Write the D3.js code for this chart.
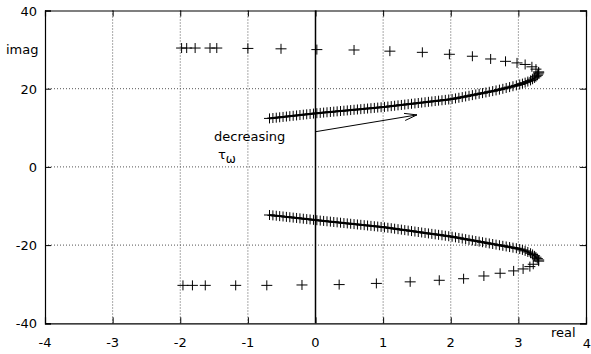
<!DOCTYPE html>
<html>
<head>
<meta charset="utf-8">
<script src="https://cdn.jsdelivr.net/npm/d3@7"></script>
<style>
  html, body { margin: 0; padding: 0; background: #fff; }
  svg { display: block; font-family: "DejaVu Sans", Verdana, sans-serif; }
</style>
</head>
<body>
<svg id="chart" width="591" height="354"></svg>
<script>
// ---------- data ----------
const xTicks = [-4, -3, -2, -1, 0, 1, 2, 3, 4];
const yTicks = [-40, -20, 0, 20, 40];

// upper branch, dense part (drawn with line + markers)
const upperDenseRe = [-0.68,-0.63,-0.58,-0.53,-0.48,-0.43,-0.38,-0.33,-0.28,-0.23,-0.18,-0.13,-0.08,-0.03,0.02,0.07,0.12,0.17,0.22,0.27,0.32,0.37,0.42,0.47,0.52,0.57,0.62,0.67,0.72,0.77,0.82,0.87,0.92,0.97,1.02,1.07,1.12,1.17,1.22,1.27,1.32,1.37,1.42,1.47,1.52,1.57,1.62,1.67,1.72,1.77,1.82,1.87,1.92,1.97,2.02,2.07,2.12,2.17,2.22,2.27,2.32,2.37,2.42,2.47,2.52,2.57,2.62,2.67,2.72,2.77,2.82,2.87,2.92,2.97,3.02,3.06,3.10,3.14,3.18,3.21,3.24,3.26,3.28,3.29,3.30];
const upperDenseIm = [12.40,12.50,12.59,12.69,12.78,12.88,12.97,13.07,13.16,13.26,13.35,13.45,13.54,13.64,13.73,13.81,13.89,13.97,14.05,14.13,14.21,14.29,14.37,14.45,14.53,14.61,14.69,14.77,14.85,14.93,15.01,15.09,15.17,15.25,15.34,15.44,15.54,15.64,15.74,15.84,15.94,16.04,16.14,16.24,16.34,16.44,16.54,16.64,16.74,16.84,16.94,17.04,17.14,17.24,17.36,17.52,17.68,17.85,18.02,18.19,18.36,18.53,18.70,18.87,19.04,19.21,19.38,19.56,19.76,19.97,20.19,20.41,20.63,20.85,21.08,21.30,21.55,21.82,22.12,22.42,22.75,23.08,23.42,23.75,24.05];

// upper branch, sparse part (markers only)
const upperSparseRe = [3.30,3.26,3.20,3.10,2.98,2.81,2.59,2.32,1.98,1.58,1.10,0.57,0.02,-0.51,-1.00,-1.46,-1.56,-1.78,-1.905,-1.98];
const upperSparseIm = [24.3,25.0,25.6,26.2,26.6,27.0,27.6,28.3,28.8,29.3,29.6,29.9,30.0,30.2,30.3,30.4,30.4,30.4,30.4,30.4];

// lower branch, dense part
const lowerDenseRe = [-0.68,-0.63,-0.58,-0.53,-0.48,-0.43,-0.38,-0.33,-0.28,-0.23,-0.18,-0.13,-0.08,-0.03,0.02,0.07,0.12,0.17,0.22,0.27,0.32,0.37,0.42,0.47,0.52,0.57,0.62,0.67,0.72,0.77,0.82,0.87,0.92,0.97,1.02,1.07,1.12,1.17,1.22,1.27,1.32,1.37,1.42,1.47,1.52,1.57,1.62,1.67,1.72,1.77,1.82,1.87,1.92,1.97,2.02,2.07,2.12,2.17,2.22,2.27,2.32,2.37,2.42,2.47,2.52,2.57,2.62,2.67,2.72,2.77,2.82,2.87,2.92,2.97,3.02,3.06,3.10,3.14,3.18,3.21,3.24,3.26,3.28,3.30];
const lowerDenseIm = [-12.30,-12.40,-12.49,-12.59,-12.68,-12.78,-12.87,-12.97,-13.06,-13.16,-13.25,-13.35,-13.44,-13.54,-13.64,-13.73,-13.82,-13.91,-14.00,-14.09,-14.18,-14.27,-14.36,-14.45,-14.54,-14.63,-14.72,-14.81,-14.90,-14.99,-15.08,-15.17,-15.26,-15.35,-15.45,-15.57,-15.69,-15.81,-15.93,-16.05,-16.17,-16.29,-16.41,-16.53,-16.65,-16.77,-16.89,-17.01,-17.13,-17.25,-17.37,-17.49,-17.61,-17.73,-17.86,-18.02,-18.17,-18.33,-18.48,-18.64,-18.79,-18.95,-19.10,-19.26,-19.41,-19.57,-19.72,-19.88,-20.03,-20.19,-20.34,-20.50,-20.65,-20.80,-21.00,-21.22,-21.48,-21.76,-22.08,-22.40,-22.75,-23.10,-23.45,-23.80];

// lower branch, sparse part
const lowerSparseRe = [3.30,3.22,3.17,3.07,2.93,2.73,2.49,2.19,1.83,1.40,0.90,0.35,-0.20,-0.72,-1.18,-1.63,-1.82,-1.96];
const lowerSparseIm = [-24.1,-24.9,-25.5,-26.1,-26.6,-27.2,-27.9,-28.6,-29.0,-29.4,-29.8,-30.1,-30.2,-30.3,-30.3,-30.3,-30.3,-30.3];

// annotation
const annText = "decreasing";
const arrowFrom = [0.0, 9.0];
const arrowTo = [1.5, 13.3];

// ---------- drawing ----------
const svg = d3.select("#chart");
const L = 45, R = 586, T = 10.5, B = 323.3;
const FS = 13;
const x = d3.scaleLinear().domain([-4, 4]).range([L, R]);
const y = d3.scaleLinear().domain([-40, 40]).range([B, T]);

const zip = (a, b) => a.map((v, i) => [v, b[i]]);

// grid
const grid = svg.append("g");
grid.selectAll("line.gx").data(xTicks.filter(d => d > -4 && d < 4 && d !== 0)).join("line")
  .attr("x1", d => x(d)).attr("x2", d => x(d)).attr("y1", T).attr("y2", B)
  .attr("stroke", "#555").attr("stroke-width", 1).attr("stroke-dasharray", "1,2");
grid.selectAll("line.gy").data(yTicks.filter(d => d > -40 && d < 40)).join("line")
  .attr("y1", d => y(d)).attr("y2", d => y(d)).attr("x1", L).attr("x2", R)
  .attr("stroke", "#555").attr("stroke-width", 1).attr("stroke-dasharray", "1,2");

// zero axis (imag axis)
svg.append("line").attr("x1", x(0)).attr("x2", x(0)).attr("y1", T).attr("y2", B)
  .attr("stroke", "#000").attr("stroke-width", 1.5);

// axes with inward ticks on all 4 sides
const tk = 6;
const axB = svg.append("g").attr("transform", `translate(0,${B})`)
  .call(d3.axisBottom(x).tickValues(xTicks).tickSize(-tk).tickFormat(""));
const axT = svg.append("g").attr("transform", `translate(0,${T})`)
  .call(d3.axisTop(x).tickValues(xTicks).tickSize(-tk).tickFormat(""));
const axLf = svg.append("g").attr("transform", `translate(${L},0)`)
  .call(d3.axisLeft(y).tickValues(yTicks).tickSize(-tk).tickFormat(""));
const axRt = svg.append("g").attr("transform", `translate(${R},0)`)
  .call(d3.axisRight(y).tickValues(yTicks).tickSize(-tk).tickFormat(""));
[axB, axT, axLf, axRt].forEach(g => {
  g.select(".domain").attr("stroke", "#000").attr("stroke-width", 1.2);
  g.selectAll(".tick line").attr("stroke", "#000");
});

// tick labels
svg.append("g").selectAll("text").data(xTicks.filter(d => d !== 4)).join("text")
  .attr("x", d => x(d)).attr("y", 347).attr("text-anchor", "middle")
  .attr("font-size", FS).attr("fill", "#000").text(d => d);
svg.append("text").attr("x", x(4) + 1).attr("y", 348).attr("text-anchor", "middle")
  .attr("font-size", FS).text("4");
svg.append("g").selectAll("text").data(yTicks).join("text")
  .attr("x", 37).attr("y", d => y(d) + 5).attr("text-anchor", "end")
  .attr("font-size", FS).attr("fill", "#000").text(d => d);

// axis titles
svg.append("text").attr("x", 6).attr("y", 54).attr("font-size", FS).text("imag");
svg.append("text").attr("x", 551).attr("y", 337).attr("font-size", FS).text("real");

// curves
const line = d3.line().x(d => x(d[0])).y(d => y(d[1]));
svg.append("path").datum(zip(upperDenseRe, upperDenseIm)).attr("d", line)
  .attr("fill", "none").attr("stroke", "#000").attr("stroke-width", 2);
svg.append("path").datum(zip(lowerDenseRe, lowerDenseIm)).attr("d", line)
  .attr("fill", "none").attr("stroke", "#000").attr("stroke-width", 2);

// markers
const allPts = [].concat(
  zip(upperDenseRe, upperDenseIm), zip(upperSparseRe, upperSparseIm),
  zip(lowerDenseRe, lowerDenseIm), zip(lowerSparseRe, lowerSparseIm));
svg.append("g").selectAll("path").data(allPts).join("path")
  .attr("transform", d => `translate(${x(d[0])},${y(d[1])})`)
  .attr("d", "M-5.5,0H5.5M0,-5V5")
  .attr("fill", "none").attr("stroke", "#000").attr("stroke-width", 1);

// annotation text
svg.append("text").attr("x", 214).attr("y", 141).attr("font-size", FS).text(annText);
const tau = svg.append("text").attr("x", 218).attr("y", 159).attr("font-size", FS);
tau.append("tspan").text("τ");
tau.append("tspan").attr("dy", 4).attr("font-size", 12).text("ω");

// arrow
const ax1 = x(arrowFrom[0]), ay1 = y(arrowFrom[1]), ax2 = x(arrowTo[0]), ay2 = y(arrowTo[1]);
svg.append("line").attr("x1", ax1).attr("y1", ay1).attr("x2", ax2).attr("y2", ay2)
  .attr("stroke", "#000").attr("stroke-width", 1);
const ang = Math.atan2(ay2 - ay1, ax2 - ax1);
const hl = 13, ha = 0.28;
const hp = [
  [ax2 - hl * Math.cos(ang - ha), ay2 - hl * Math.sin(ang - ha)],
  [ax2, ay2],
  [ax2 - hl * Math.cos(ang + ha), ay2 - hl * Math.sin(ang + ha)]
];
svg.append("path").attr("d", d3.line()(hp)).attr("fill", "none")
  .attr("stroke", "#000").attr("stroke-width", 1);
</script>
</body>
</html>
